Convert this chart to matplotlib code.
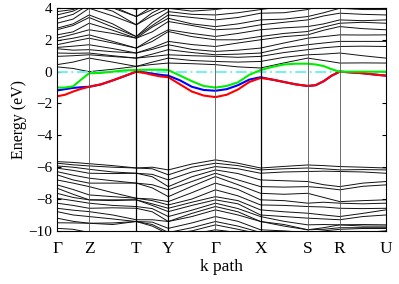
"""Band structure along the high-symmetry path, with the band-edge bands coloured."""

import numpy as np
import matplotlib
matplotlib.use('Agg')
import matplotlib.pyplot as plt

plt.rcParams['font.family'] = ['Liberation Serif', 'DejaVu Serif']

###Path
kticks = [0, 0.32, 0.79, 1.11, 1.58, 2.03, 2.50, 2.82, 3.28]
klabels = ['Γ', 'Z', 'T', 'Y', 'Γ', 'X', 'S', 'R', 'U']

#Coloured bands, 4 steps per segment (33 values)
red = [-1.55, -1.45, -1.25, -1.08, -0.95,
       -0.8, -0.55, -0.28, 0.0,
       -0.08, -0.2, -0.3, -0.35,
       -0.8, -1.25, -1.5, -1.6,
       -1.45, -1.12, -0.65, -0.4,
       -0.5, -0.65, -0.8, -0.9,
       -0.85, -0.6, -0.25, 0.0,
       -0.05, -0.1, -0.18, -0.25]
green = [-1.0, -1.0, -0.92, -0.5, -0.1,
         -0.08, 0.0, 0.08, 0.1,
         0.12, 0.12, 0.12, 0.1,
         -0.25, -0.6, -0.9, -1.0,
         -0.9, -0.67, -0.2, 0.1,
         0.3, 0.45, 0.5, 0.5,
         0.45, 0.35, 0.15, 0.0,
         0.0, 0.0, 0.0, 0.0]
blue = [-1.18, -1.1, -1.02, -0.98, -0.95,
        -0.8, -0.55, -0.28, 0.0,
        -0.05, -0.12, -0.2, -0.25,
        -0.55, -0.95, -1.15, -1.2,
        -1.1, -0.85, -0.5, -0.35,
        -0.5, -0.65, -0.8, -0.9,
        -0.85, -0.6, -0.25, 0.0,
        -0.05, -0.1, -0.18, -0.25]

#Black bands, 2 steps per segment (17 values: G m Z m T m Y m G m X m S m R m U)
cond = [
    [0.3, 0.2, 0.0, 0.15, 0.33, 0.45, 0.54, 0.5, 0.44, 0.3, 0.23, 0.55, 0.85, 0.7, 0.54, 0.55, 0.54],
    [0.44, 0.6, 0.85, 0.6, 0.33, 0.6, 0.85, 0.7, 0.64, 0.6, 0.64, 0.9, 1.06, 1.1, 1.17, 1.0, 0.85],
    [0.96, 1.0, 1.06, 0.95, 0.85, 0.95, 1.06, 1.0, 0.96, 0.9, 0.96, 1.2, 1.38, 1.5, 1.58, 1.6, 1.58],
    [1.17, 1.15, 1.17, 1.0, 0.85, 1.1, 1.38, 1.2, 1.06, 1.1, 1.17, 1.5, 1.69, 1.8, 1.9, 1.9, 1.9],
    [1.44, 1.35, 1.38, 1.25, 1.17, 1.4, 1.69, 1.4, 1.27, 1.35, 1.48, 1.8, 2.1, 2.2, 2.31, 2.3, 2.31],
    [1.52, 1.6, 1.69, 1.45, 1.17, 1.5, 1.9, 1.7, 1.58, 1.8, 2.0, 2.2, 2.31, 2.6, 2.83, 2.7, 2.63],
    [1.69, 1.9, 2.1, 1.8, 1.48, 1.9, 2.52, 2.2, 2.0, 2.0, 2.21, 2.4, 2.52, 2.8, 3.04, 3.1, 3.04],
    [1.94, 2.1, 2.31, 1.9, 1.48, 2.1, 2.63, 2.4, 2.21, 2.4, 2.63, 2.75, 2.83, 3.0, 3.25, 3.2, 3.25],
    [2.1, 2.35, 2.63, 2.4, 2.1, 2.5, 3.15, 2.9, 2.63, 2.7, 2.94, 3.1, 3.25, 3.5, 3.67, 3.6, 3.56],
    [2.31, 2.5, 3.04, 2.6, 2.1, 2.8, 3.35, 3.0, 2.83, 3.0, 3.25, 3.3, 3.46, 3.7, 3.98, 3.9, 3.9],
    [2.63, 2.9, 3.4, 2.8, 2.2, 2.9, 3.56, 3.4, 3.25, 3.4, 3.67, 3.7, 3.9, 4.2, 4.3, 4.2, 4.1],
    [2.73, 3.0, 3.56, 3.0, 2.2, 3.1, 3.77, 3.6, 3.56, 3.7, 3.9, 4.1, 4.3, 4.4, 4.5, 4.4, 4.3],
    [3.04, 3.3, 3.98, 3.5, 2.94, 3.5, 3.98, 3.8, 3.9, 4.1, 4.2, 4.3, 4.5, 4.6, 4.6, 4.5, 4.5],
    [3.31, 3.6, 4.2, 3.8, 2.94, 3.7, 4.2, 4.1, 4.1, 4.3, 4.4, 4.5, 4.6, 4.7, 4.7, 4.7, 4.6],
    [3.56, 3.8, 4.3, 4.0, 3.46, 3.9, 4.3, 4.3, 4.3, 4.4, 4.5, 4.6, 4.7, 4.8, 4.8, 4.8, 4.7],
    [3.77, 3.9, 4.4, 4.1, 3.46, 4.1, 4.4, 4.4, 4.4, 4.5, 4.6, 4.7, 4.8, 4.9, 4.9, 4.9, 4.8],
    [3.98, 4.2, 4.5, 4.3, 3.9, 4.3, 4.5, 4.5, 4.5, 4.6, 4.7, 4.8, 4.9, 5.0, 5.0, 5.0, 4.9],
]
val = [
    [-5.65, -5.7, -5.78, -5.9, -6.05, -6.0, -6.17, -5.8, -5.54, -5.75, -6.05, -5.95, -5.86, -5.9, -5.96, -6.0, -6.05],
    [-5.75, -5.85, -5.92, -6.0, -6.05, -6.1, -6.48, -6.0, -5.75, -5.9, -6.17, -6.1, -6.05, -6.1, -6.17, -6.15, -6.17],
    [-5.92, -6.0, -6.13, -6.3, -6.38, -6.45, -6.8, -6.3, -5.96, -6.1, -6.38, -6.3, -6.27, -6.25, -6.27, -6.3, -6.38],
    [-6.06, -6.2, -6.38, -6.4, -6.38, -6.6, -7.22, -6.6, -6.17, -6.4, -6.8, -6.85, -6.9, -7.1, -7.22, -7.0, -6.9],
    [-6.28, -6.5, -6.69, -6.85, -7.0, -7.1, -7.42, -6.9, -6.38, -6.8, -7.22, -7.25, -7.22, -7.3, -7.42, -7.2, -7.11],
    [-6.48, -6.8, -7.0, -7.0, -7.0, -7.3, -7.85, -7.2, -6.59, -7.1, -7.64, -7.7, -7.64, -7.9, -8.16, -8.1, -8.05],
    [-6.8, -7.0, -7.22, -7.6, -7.95, -8.0, -8.16, -7.6, -7.0, -7.4, -8.05, -8.1, -8.26, -8.2, -8.26, -8.3, -8.26],
    [-7.11, -7.4, -7.74, -7.85, -7.95, -8.1, -8.37, -8.0, -7.42, -7.8, -8.37, -8.4, -8.47, -8.5, -8.58, -8.6, -8.58],
    [-7.32, -7.7, -8.05, -8.05, -8.05, -8.3, -8.58, -8.2, -7.85, -8.1, -8.68, -8.8, -8.89, -9.0, -9.1, -8.9, -8.68],
    [-7.64, -7.9, -8.05, -8.1, -8.05, -8.4, -8.79, -8.4, -8.05, -8.3, -9.0, -9.1, -9.2, -9.25, -9.3, -9.1, -9.0],
    [-7.95, -8.1, -8.26, -8.4, -8.47, -8.6, -9.1, -8.7, -8.26, -8.6, -9.1, -9.4, -9.62, -9.6, -9.62, -9.6, -9.62],
    [-8.26, -8.4, -8.58, -8.55, -8.58, -8.8, -9.41, -8.9, -8.47, -8.8, -9.41, -9.6, -9.93, -9.8, -9.62, -9.7, -9.7],
    [-8.58, -8.7, -8.79, -9.0, -9.3, -9.3, -9.41, -9.1, -8.68, -9.0, -9.41, -9.7, -9.93, -9.9, -9.8, -9.8, -9.8],
    [-8.79, -9.0, -9.1, -9.25, -9.41, -9.45, -9.84, -9.5, -9.1, -9.4, -9.93, -10.0, -10.1, -10.0, -9.9, -9.85, -9.85],
    [-9.2, -9.4, -9.52, -9.5, -9.41, -9.6, -10.1, -9.8, -9.41, -9.7, -10.1, -10.2, -10.2, -10.2, -10.1, -10.1, -10.0],
    [-9.49, -9.5, -9.52, -9.6, -9.41, -9.7, -10.2, -10.0, -9.62, -9.9, -10.2, -10.3, -10.3, -10.3, -10.2, -10.2, -10.1],
    [-9.84, -9.9, -10.1, -10.1, -10.2, -10.2, -10.3, -10.2, -9.93, -10.1, -10.3, -10.4, -10.4, -10.4, -10.3, -10.3, -10.3],
]

#k grid: each segment split evenly
def kgrid(steps):
    k = [kticks[0]]
    for a, b in zip(kticks[:-1], kticks[1:]):
        for j in range(1, steps + 1):
            k.append(a + (b - a) * j / steps)
    return np.array(k)

k2 = kgrid(2)
k4 = kgrid(4)

fig = plt.figure(figsize=(3.99, 2.84), dpi=100)
ax = fig.add_axes([0.143, 0.187, 0.824, 0.785])

for b in cond + val:
    ax.plot(k2, b, color='#111111', lw=0.7)

ax.axhline(0, color='#66f0f0', lw=1.3, ls='-.', dashes=(6, 2, 1, 2))
ax.plot(k4, blue, color='blue', lw=1.5)
ax.plot(k4, red, color='red', lw=1.5)
ax.plot(k4, green, color='#00ee00', lw=1.5)

#vertical lines at high-symmetry points
for i, x in enumerate(kticks[1:-1]):
    if klabels[i + 1] in ('T', 'Y', 'X'):
        ax.axvline(x, color='black', lw=0.9)
    else:
        ax.axvline(x, color='#555555', lw=0.6)

ax.set_xlim(kticks[0], kticks[-1])
ax.set_ylim(-10, 4)
ax.set_yticks(np.arange(-10, 5, 2))
ax.set_yticklabels(['\u221210', '\u22128', '\u22126', '\u22124', '\u22122', '0', '2', '4'])
ax.set_xticks(kticks)
ax.set_xticklabels(klabels)
ax.tick_params(axis='x', length=0, pad=7, labelsize=12.5)
ax.tick_params(axis='y', direction='in', right=True, length=3, labelsize=11)
ax.set_xlabel('k path', fontsize=12.5, labelpad=2)
ax.set_ylabel('Energy (eV)', fontsize=11.5, labelpad=1)

plt.savefig('out.png', dpi=100)
